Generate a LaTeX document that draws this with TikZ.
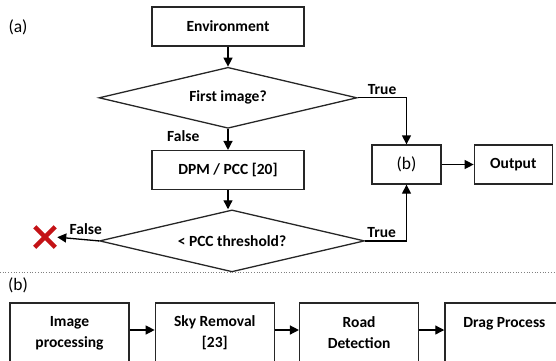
\documentclass[tikz,border=0pt]{standalone}
\usepackage{fontspec}
\setmainfont{Carlito}
\usepackage{xcolor}
\usetikzlibrary{positioning,shapes.geometric,shapes.misc,arrows.meta}
\definecolor{xred}{RGB}{196,18,22}

\begin{document}
\begin{tikzpicture}[x=1pt, y=-1pt, node distance=25pt, line width=1.3pt, >={Triangle[length=9pt,width=9pt]}]
            \tikzstyle{block} = [rectangle, draw=black!85, minimum width=152pt, minimum height=39pt, inner sep=2pt, align=center, font=\fontsize{15.5}{21}\selectfont\bfseries]
            \tikzstyle{decision} = [diamond, draw=black!85, aspect=4.2, inner sep=0pt, font=\fontsize{15.5}{21}\selectfont\bfseries]
            \tikzstyle{stage} = [block, minimum width=119pt, minimum height=60pt]
            \tikzstyle{tag} = [font=\fontsize{15.5}{18}\selectfont\bfseries, inner sep=1pt]
            \tikzstyle{part} = [font=\fontsize{17.5}{20}\selectfont]
            \clip (0,0) rectangle (556,360);

            % part (a)
            \node [part] (pa) at (18,27) {(a)};
            \node [block] (env) at (228,26.5) {Environment};
            \node [decision, minimum width=258pt, minimum height=61pt, below = 20pt of env] (first) {First image?};
            \node [block, below = 21pt of first] (dpm) {DPM / PCC [20]};
            \node [decision, minimum width=265pt, minimum height=62pt, below = 19pt of dpm, xshift=4pt] (thresh) {< PCC threshold?};
            \node [block, minimum width=69pt, font=\fontsize{17.5}{20}\selectfont] (sub) at (406.5,164.5) {(b)};
            \node [block, minimum width=78pt, right = 32pt of sub] (out) {Output};
            \node [cross out, draw=xred, line width=4.5pt, minimum size=16pt, inner sep=0pt] (rej) at (45,237) {};

            \draw [->] (env) to (first);
            \draw [->] (first) to node [tag, pos=0.35, left=27pt] {False} (dpm);
            \draw [->] (dpm) to (thresh.north -| dpm.south);
            \draw [->] (first.east) -| node [tag, pos=0.25, above=2pt] {True} (sub.north);
            \draw [->] (thresh.east) -| node [tag, pos=0.2, above=2pt] {True} (sub.south);
            \draw [->] (sub) to (out);
            \draw [->, shorten >= 2pt] (thresh.west) to node [tag, pos=0.3, above=3pt] {False} (rej.east);

            \draw [gray, dotted, line width=0.7pt] (0,272) -- (556,272);

            % part (b)
            \node [part] (pb) at (18,285) {(b)};
            \node [stage] (img) at (69.5,333) {Image\\processing};
            \node [stage, right = 25pt of img] (sky) {Sky Removal\\{[23]}};
            \node [stage, right = 24pt of sky] (road) {Road\\Detection};
            \node [stage, right = 25pt of road] (drag) {Drag Process\\\mbox{}};

            \draw [->] ([yshift=3pt]img.east) to ([yshift=3pt]sky.west);
            \draw [->] ([yshift=3pt]sky.east) to ([yshift=3pt]road.west);
            \draw [->] ([yshift=3pt]road.east) to ([yshift=3pt]drag.west);
        \end{tikzpicture}
\end{document}
